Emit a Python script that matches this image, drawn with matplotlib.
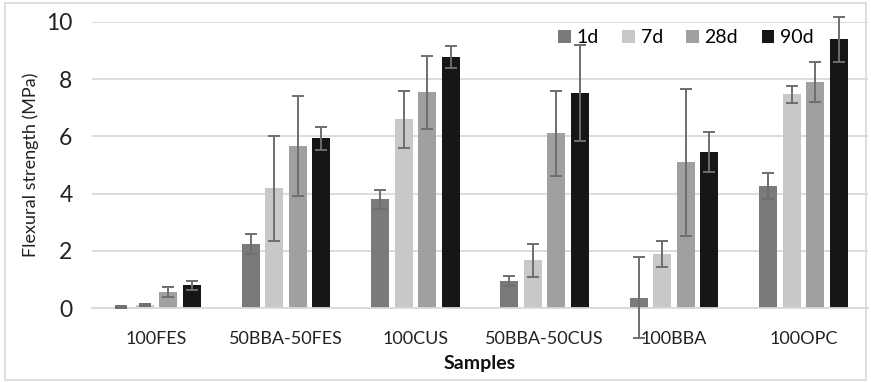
import matplotlib
matplotlib.use("Agg")
import matplotlib.pyplot as plt
import numpy as np
from matplotlib.patches import Rectangle

plt.rcParams['font.family'] = ['Lato', 'DejaVu Sans']

samples = ["100FES", "50BBA-50FES", "100CUS", "50BBA-50CUS", "100BBA", "100OPC"]
ages = ["1d", "7d", "28d", "90d"]

strength_1d = [0.05, 2.25, 3.80, 0.94, 0.37, 4.27]
strength_7d = [0.12, 4.19, 6.59, 1.67, 1.89, 7.47]
strength_28d = [0.58, 5.67, 7.54, 6.10, 5.09, 7.90]
strength_90d = [0.80, 5.93, 8.76, 7.51, 5.45, 9.39]

err_1d = [0.03, 0.35, 0.33, 0.17, 1.42, 0.44]
err_7d = [0.04, 1.83, 0.98, 0.57, 0.45, 0.29]
err_28d = [0.17, 1.75, 1.27, 1.48, 2.56, 0.70]
err_90d = [0.15, 0.41, 0.38, 1.69, 0.70, 0.79]

values = [strength_1d, strength_7d, strength_28d, strength_90d]
errors = [err_1d, err_7d, err_28d, err_90d]
colors = ["#7a7a7a", "#c7c8c7", "#a0a0a0", "#161616"]

fig = plt.figure(figsize=(8.71, 3.82), dpi=100)
fig.patches.append(Rectangle((5 / 871, 2 / 382), 861 / 871, 377 / 382,
                             transform=fig.transFigure, fill=False,
                             edgecolor="#d9d9d9", linewidth=1.2))
ax = fig.add_axes([92 / 871, 1 - 308.3 / 382, 776 / 871, (308.3 - 21.7) / 382])

x = np.arange(len(samples))
width = 0.139
pitch = 0.182
for i, (vals, errs, col, lab) in enumerate(zip(values, errors, colors, ages)):
    pos = x + (i - 1.5) * pitch
    ax.bar(pos, vals, width, color=col, label=lab, zorder=2)
    eb = ax.errorbar(pos, vals, yerr=errs, fmt="none", ecolor="#6e6e6e",
                     elinewidth=1.4, capsize=4.3, capthick=1.4, zorder=3)
    for artist in eb.lines[1] + eb.lines[2]:
        artist.set_clip_on(False)

ax.set_xlim(-0.5, len(samples) - 0.5)
ax.set_ylim(0, 10)
ax.set_yticks([0, 2, 4, 6, 8, 10])
ax.yaxis.grid(True, color="#d9d9d9", linewidth=1.3, zorder=0)
ax.set_axisbelow(True)
for s in ["top", "right", "left"]:
    ax.spines[s].set_visible(False)
ax.spines["bottom"].set_color("#d9d9d9")
ax.spines["bottom"].set_linewidth(1.3)
ax.tick_params(axis="both", length=0, colors="#222222")
ax.tick_params(axis="y", labelsize=16.5, pad=14)
ax.tick_params(axis="x", labelsize=13, pad=16)
ax.set_xticks(x)
ax.set_xticklabels(samples)
ax.set_ylabel("Flexural strength (MPa)", fontsize=13, color="#222222", labelpad=5)
ax.set_xlabel("Samples", fontsize=14, fontweight="bold", color="#111111", labelpad=6)

ax.legend(loc="upper right", bbox_to_anchor=(0.94, 1.0), ncol=4, frameon=False,
          fontsize=14, handlelength=0.65, handleheight=0.65, handletextpad=0.3,
          columnspacing=1.2, borderaxespad=0)

fig.savefig("out.png", dpi=100)
